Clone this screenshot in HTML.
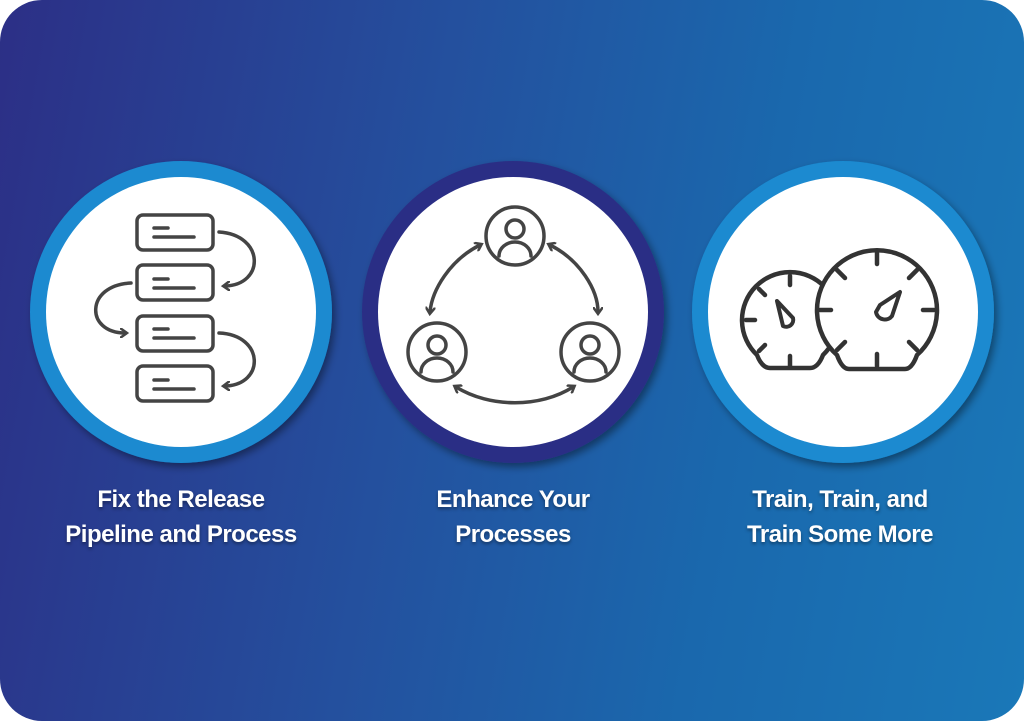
<!DOCTYPE html>
<html><head><style>
body{margin:0;width:1024px;height:721px;background:#fff;overflow:hidden}
.card{position:absolute;left:0;top:0;width:1024px;height:721px;border-radius:42px;overflow:hidden;
background:linear-gradient(100deg,#2c2f86 0%,#24509e 40%,#1a68ad 70%,#1a78b8 100%)}
.t{position:absolute;width:320px;text-align:center;color:#fff;font-family:"Liberation Sans",sans-serif;font-weight:bold;font-size:24px;line-height:35px;letter-spacing:-0.5px;text-shadow:0 2px 3px rgba(0,0,0,.4)}
</style></head><body>
<div class="card">
<svg width="1024" height="721" style="position:absolute;left:0;top:0">
<defs><filter id="s"><feDropShadow dx="3" dy="4" stdDeviation="4" flood-opacity="0.4"/></filter>
<marker id="a" markerWidth="10" markerHeight="10" refX="5" refY="5" orient="auto-start-reverse" markerUnits="userSpaceOnUse"><path d="M0,0 L7,5 L0,10" fill="none" stroke="#444" stroke-width="2.5"/></marker></defs>
<circle cx="181" cy="312" r="151" fill="#1a8ad0" filter="url(#s)"/><circle cx="181" cy="312" r="135" fill="#fff"/>
<circle cx="513" cy="312" r="151" fill="#2b2f85" filter="url(#s)"/><circle cx="513" cy="312" r="135" fill="#fff"/>
<circle cx="843" cy="312" r="151" fill="#1a8ad0" filter="url(#s)"/><circle cx="843" cy="312" r="135" fill="#fff"/>
<g stroke="#444" stroke-width="3.5" fill="none" stroke-linecap="round">
<rect x="137" y="215" width="76" height="35" rx="6"/><rect x="137" y="265" width="76" height="35" rx="6"/>
<rect x="137" y="316" width="76" height="35" rx="6"/><rect x="137" y="366" width="76" height="35" rx="6"/>
<path d="M154 228h14M154 237h40M154 279h14M154 288h40M154 329h14M154 338h40M154 380h14M154 389h40"/>
<path d="M219 232 C265 235 265 285 225 286" marker-end="url(#a)"/>
<path d="M131 283 C85 285 85 333 125 333" marker-end="url(#a)"/>
<path d="M219 333 C265 335 265 385 225 386" marker-end="url(#a)"/>
<circle cx="515" cy="236" r="29"/><circle cx="437" cy="352" r="29"/><circle cx="590" cy="352" r="29"/>
<circle cx="515" cy="229" r="9"/><path d="M499 256 a16 14 0 0 1 32 0"/>
<circle cx="437" cy="345" r="9"/><path d="M421 372 a16 14 0 0 1 32 0"/>
<circle cx="590" cy="345" r="9"/><path d="M574 372 a16 14 0 0 1 32 0"/>
<path d="M480 245 C450 260 432 290 430 312" marker-start="url(#a)" marker-end="url(#a)"/>
<path d="M550 245 C580 260 598 290 598 312" marker-start="url(#a)" marker-end="url(#a)"/>
<path d="M456 387 C490 408 540 408 573 387" marker-start="url(#a)" marker-end="url(#a)"/>
</g>
<g stroke="#333" stroke-width="4.5" fill="none" stroke-linecap="round" stroke-linejoin="round">
<path d="M757 355 A48 48 0 1 1 823 355 Q818 368 810 368 H770 Q762 368 757 355 Z" fill="#fff"/>
<path d="M790 276v9M746 320h9M759 289l6 6M759 351l6-6M790 356v10"/>
<path d="M777 301 L793 318 A7 7 0 0 1 783 326 Z" stroke-width="4"/>
<path d="M837 355 A60 60 0 1 1 917 355 Q912 369 905 369 H849 Q842 369 837 355 Z" fill="#fff"/>
<path d="M877 253v11M820 310h11M923 310h11M837 270l8 8M917 270l-8 8M837 350l8-8M917 350l-8-8M877 354v12"/>
<path d="M880 305 L900 292 L892 316 A9 9 0 0 1 876 312 Z" stroke-width="4"/>
</g>
</svg>
<div class="t" style="left:21px;top:482px">Fix the Release<br>Pipeline and Process</div>
<div class="t" style="left:353px;top:482px">Enhance Your<br>Processes</div>
<div class="t" style="left:680px;top:482px">Train, Train, and<br>Train Some More</div>
</div>
</body></html>
